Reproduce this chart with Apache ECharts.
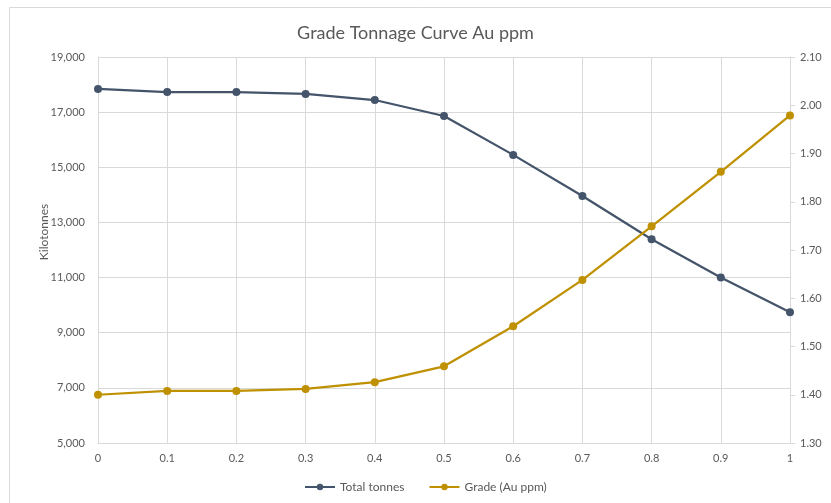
<!DOCTYPE html>
<html>
<head>
<meta charset="utf-8">
<script src="https://cdn.jsdelivr.net/npm/echarts@6/dist/echarts.min.js"></script>
<style>
html,body{margin:0;padding:0;background:#fff;}
#chart{width:831px;height:503px;}
</style>
</head>
<body>
<div id="chart"></div>
<script>
var categories = ['0','0.1','0.2','0.3','0.4','0.5','0.6','0.7','0.8','0.9','1'];
var totalTonnes = [17840, 17730, 17730, 17660, 17440, 16860, 15450, 13960, 12390, 11000, 9740];
var gradeAu = [1.400, 1.408, 1.408, 1.412, 1.426, 1.459, 1.542, 1.638, 1.749, 1.862, 1.979];

var FONT = 'Lato, "Open Sans", sans-serif';
var TXT = '#595959';
var chart = echarts.init(document.getElementById('chart'));
chart.setOption({
  animation: false,
  backgroundColor: '#ffffff',
  graphic: [{
    type: 'rect', left: 7, top: 5, shape: {width: 840, height: 520},
    style: {fill: 'none', stroke: '#d9d9d9', lineWidth: 1}, silent: true, z: -1
  }],
  title: {
    text: 'Grade Tonnage Curve Au ppm',
    left: 'center', top: 19,
    textStyle: {fontFamily: FONT, fontSize: 18, fontWeight: 'normal', color: TXT}
  },
  legend: {
    bottom: 5, left: 299, itemGap: 24, itemWidth: 30, itemHeight: 8,
    textStyle: {fontFamily: FONT, fontSize: 12, color: TXT},
    data: ['Total tonnes', 'Grade (Au ppm)']
  },
  grid: {left: 98, right: 41, top: 57, bottom: 60},
  xAxis: {
    type: 'category', data: categories, boundaryGap: false,
    axisLine: {lineStyle: {color: '#d9d9d9'}},
    axisTick: {show: false},
    axisLabel: {fontFamily: FONT, fontSize: 11, color: TXT, margin: 10},
    splitLine: {show: true, lineStyle: {color: '#d9d9d9'}}
  },
  yAxis: [{
    type: 'value', min: 5000, max: 19000, interval: 2000,
    name: 'Kilotonnes', nameLocation: 'middle', nameGap: 48, nameRotate: 90,
    nameMoveOverlap: false,
    nameTextStyle: {fontFamily: FONT, fontSize: 12, color: TXT, padding: [0, 0, 0, 36]},
    axisLine: {show: true, lineStyle: {color: '#d9d9d9'}},
    axisTick: {show: false},
    axisLabel: {fontFamily: FONT, fontSize: 11, color: TXT, margin: 13,
      formatter: function (v) { return v.toLocaleString('en-US'); }},
    splitLine: {show: true, lineStyle: {color: '#d9d9d9'}}
  }, {
    type: 'value', min: 1.3, max: 2.1, interval: 0.1, position: 'right',
    axisLine: {show: true, lineStyle: {color: '#d9d9d9'}},
    axisTick: {show: true, length: 5, lineStyle: {color: '#d9d9d9'}},
    axisLabel: {fontFamily: FONT, fontSize: 11, color: TXT, margin: 10,
      formatter: function (v) { return v.toFixed(2); }},
    splitLine: {show: false}
  }],
  series: [{
    name: 'Total tonnes', type: 'line', yAxisIndex: 0, data: totalTonnes,
    symbol: 'circle', symbolSize: 8,
    lineStyle: {color: '#44546A', width: 2.25},
    itemStyle: {color: '#44546A'}
  }, {
    name: 'Grade (Au ppm)', type: 'line', yAxisIndex: 1, data: gradeAu,
    symbol: 'circle', symbolSize: 8,
    lineStyle: {color: '#BF9000', width: 2.25},
    itemStyle: {color: '#BF9000'}
  }]
});
</script>
</body>
</html>
